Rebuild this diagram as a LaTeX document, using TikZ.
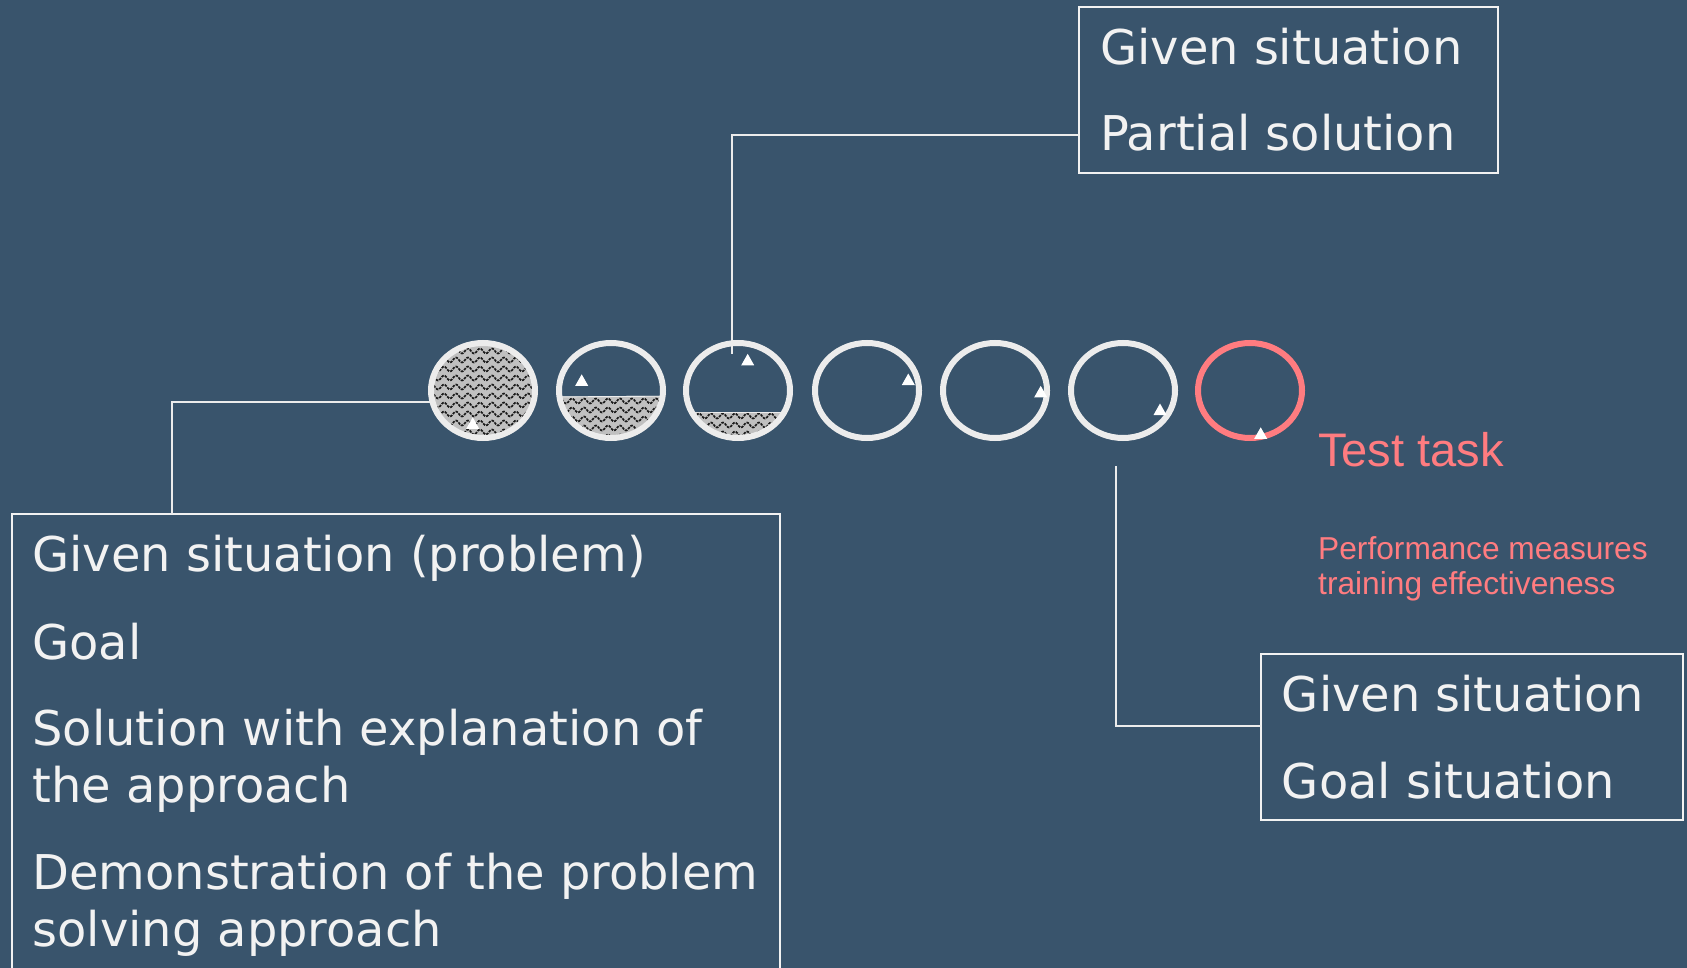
\documentclass[tikz,border=0pt]{standalone}
\usepackage{fontspec}
\setmainfont{DejaVu Sans}
\newfontfamily\arialf{Liberation Sans}
\usetikzlibrary{shapes.geometric,calc}
\definecolor{bg}{RGB}{57,84,108}
\definecolor{fg}{RGB}{242,242,242}
\definecolor{ringc}{RGB}{236,236,236}
\definecolor{pinkc}{RGB}{255,124,128}
\definecolor{hatchc}{RGB}{192,192,192}
\newcommand\wavefill[3]{%
  \fill[hatchc] (#1-60,#2-8) rectangle (#1+60,#2+9*#3+8);
  \foreach \k in {0,...,#3}{%
    \pgfmathsetmacro\yy{#2+9*\k}%
    \draw[black!90, line width=1.7pt, dash pattern=on 2.6pt off 1.1pt]
      plot[variable=\t, domain=-58:58, samples=117] ({#1+\t},{\yy+2.5*sin(30*\t)});
  }%
}
\newcommand\tria[2]{\fill[white] (#1,#2) -- ++(-6.5,11.5) -- ++(13,0) -- cycle;}
\begin{document}
\begin{tikzpicture}[x=1pt,y=-1pt,
  boxst/.style={draw=fg, line width=2pt, rectangle, inner sep=0pt, outer sep=0pt, anchor=north west},
  txt/.style={text=fg, anchor=base west, inner sep=0pt, font=\fontsize{47.9}{57}\selectfont},
  redtxt/.style={text=pinkc, anchor=base west, inner sep=0pt},
  ringst/.style={ellipse, draw=ringc, line width=6pt, minimum width=104pt, minimum height=95pt, inner sep=0pt, outer sep=0pt},
  conn/.style={draw=ringc, line width=2pt}]

\fill[bg] (0,0) rectangle (1687,968);
\useasboundingbox (0,0) rectangle (1687,968);

% hatched fills
\begin{scope}
  \clip (483,390.5) ellipse [x radius=50pt, y radius=45.5pt];
  \wavefill{483}{342}{11}
\end{scope}
\begin{scope}
  \clip (611,390.5) ellipse [x radius=50pt, y radius=45.5pt];
  \clip (550,396.5) -- (672,395.7) -- (672,445) -- (550,445) -- cycle;
  \wavefill{611}{401}{4}
  \draw[ringc, line width=1.3pt] (550,396.8) -- (672,395.9);
\end{scope}
\begin{scope}
  \clip (738,390.5) ellipse [x radius=50pt, y radius=45.5pt];
  \clip (680,412) rectangle (800,445);
  \wavefill{738}{416}{2}
  \draw[ringc, line width=1.3pt] (680,412) -- (800,412.4);
\end{scope}

% boxes
\node[boxst, minimum width=418.5pt, minimum height=166pt] (topbox) at (1079,7) {};
\node[boxst, minimum width=422.3pt, minimum height=166pt] (rbox) at (1260.7,654) {};
\node[boxst, minimum width=767.7pt, minimum height=476pt] (lbox) at (12.3,514) {};

% circles
\node[ringst] (c1) at (483,390.5) {};
\node[ringst] (c2) at (611,390.5) {};
\node[ringst] (c3) at (738,390.5) {};
\node[ringst] (c4) at (867,390.5) {};
\node[ringst] (c5) at (995,390.5) {};
\node[ringst] (c6) at (1123,390.5) {};
\node[ringst, draw=pinkc] (c7) at (1250,390.5) {};

% connectors
\coordinate (lk) at (171.7,514);
\coordinate (tk) at (731.7,354);
\coordinate (rk) at (1116,466);
\draw[conn] ([yshift=-11.2pt]c1.west) -| (lk);
\draw[conn] ([yshift=-45pt]topbox.west) -| (tk);
\draw[conn] (rk) |- ([yshift=11.3pt]rbox.west);

% triangles
\tria{472.7}{417.3}
\tria{581.7}{374.3}
\tria{747.7}{353.8}
\tria{908.3}{373.5}
\tria{1040.7}{385.8}
\tria{1160}{403.5}
\tria{1260.7}{427.3}

% texts
\node[txt] (t1) at (1100,65) {Given situation};
\node[txt] (t2) at (1100,150.7) {Partial solution};
\node[txt] (r1) at (1281.7,711.7) {Given situation};
\node[txt] (r2) at (1281.7,798) {Goal situation};
\node[txt] (l1) at (32.3,571.7) {Given situation (problem)};
\node[txt] (l2) at (32.3,659.3) {Goal};
\node[txt] (l3) at (32.3,745.7) {Solution with explanation of};
\node[txt] (l4) at (32.3,802.7) {the approach};
\node[txt] (l5) at (32.3,889.3) {Demonstration of the problem};
\node[txt] (l6) at (32.3,946) {solving approach};
\node[redtxt, font=\arialf\fontsize{47.1}{52}\selectfont] (tt) at (1318,466) {Test task};
\node[redtxt, font=\arialf\fontsize{31.7}{35}\selectfont] (pm1) at (1318,559.3) {Performance measures};
\node[redtxt, font=\arialf\fontsize{31.7}{35}\selectfont] (pm2) at (1318,594) {training effectiveness};
\end{tikzpicture}
\end{document}
